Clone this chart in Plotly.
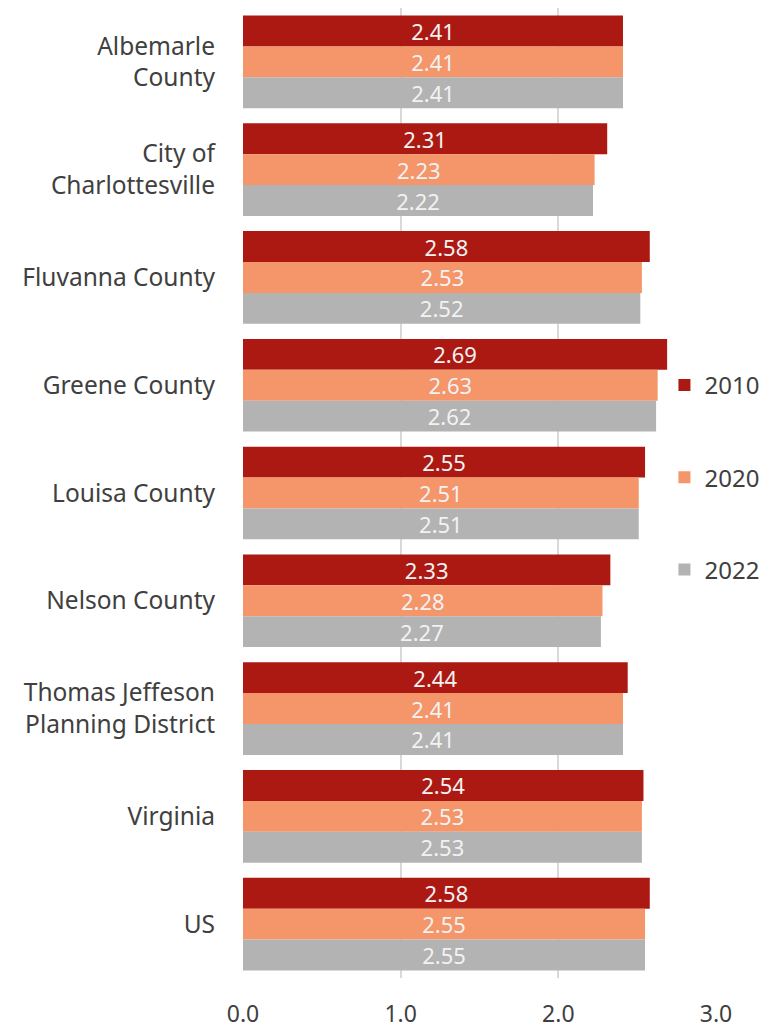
import plotly.graph_objects as go

categories = [
    "Albemarle<br>County",
    "City of<br>Charlottesville",
    "Fluvanna County",
    "Greene County",
    "Louisa County",
    "Nelson County",
    "Thomas Jeffeson<br>Planning District",
    "Virginia",
    "US",
]
v2010 = [2.41, 2.31, 2.58, 2.69, 2.55, 2.33, 2.44, 2.54, 2.58]
v2020 = [2.41, 2.23, 2.53, 2.63, 2.51, 2.28, 2.41, 2.53, 2.55]
v2022 = [2.41, 2.22, 2.52, 2.62, 2.51, 2.27, 2.41, 2.53, 2.55]
series_names = ["2010", "2020", "2022"]
colors = ["#AC1912", "#F4956A", "#B3B3B3"]
tick_vals = [0, 1, 2, 3]
tick_text = ["0.0", "1.0", "2.0", "3.0"]

FONT = "Noto Sans, Open Sans, sans-serif"

fig = go.Figure()
for name, vals, col in zip(series_names, [v2010, v2020, v2022], colors):
    fig.add_trace(go.Bar(
        y=categories, x=vals, name=name, orientation="h",
        marker=dict(color=col, line=dict(width=0)),
        text=[f"{v:.2f}" for v in vals],
        textposition="inside", insidetextanchor="middle",
        textfont=dict(family=FONT, size=22, color="#F2F2F2"),
        legendgroup=name,
        cliponaxis=False,
    ))

fig.update_layout(
    width=783, height=1029,
    margin=dict(l=243, r=67, t=8, b=51, autoexpand=False),
    barmode="group", bargap=0.14, bargroupgap=0,
    plot_bgcolor="white", paper_bgcolor="white",
    font=dict(family=FONT, color="#404040"),
    uniformtext=dict(minsize=22, mode="show"),
    legend=dict(
        x=0.891, y=0.516, xanchor="left", yanchor="middle",
        font=dict(family=FONT, size=24, color="#404040"),
        tracegroupgap=58, bgcolor="rgba(0,0,0,0)",
        traceorder="grouped",
    ),
    xaxis=dict(
        range=[0, 3], tickvals=tick_vals, ticktext=tick_text,
        showgrid=True, gridcolor="#D9D9D9", gridwidth=1.5,
        zeroline=False, showline=False, ticks="",
        tickfont=dict(family=FONT, size=23, color="#404040"),
        ticklabelstandoff=20, automargin=False,
    ),
    yaxis=dict(
        autorange="reversed", showgrid=False, zeroline=False,
        showline=False, ticks="",
        tickfont=dict(family=FONT, size=24.5, color="#404040"),
        ticklabelstandoff=27, automargin=False,
    ),
)

fig.write_html("out.html")
